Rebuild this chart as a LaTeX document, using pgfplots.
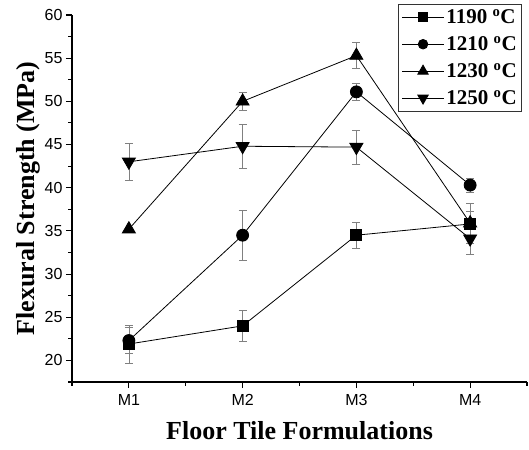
\documentclass[border=0pt]{standalone}
\usepackage{fontspec}
\setmainfont{Liberation Serif}
\setsansfont{Liberation Sans}
\usepackage{pgfplots}
\pgfplotsset{compat=1.18}
\begin{document}
\begin{tikzpicture}
\begin{axis}[
  scale only axis,
  width=455pt, height=367pt,
  at={(0,0)}, anchor=south west,
  xmin=0.5, xmax=4.5, ymin=17.5, ymax=60,
  axis x line*=bottom, axis y line*=left,
  axis line style={line width=1.3pt},
  tick align=outside,
  tick style={line width=1.1pt, black},
  major tick length=6pt, minor tick length=3.5pt,
  xtick={1,2,3,4}, xticklabels={M1,M2,M3,M4},
  minor xtick={0.5,1.5,2.5,3.5,4.5},
  ytick={20,25,...,60},
  minor ytick={17.5,22.5,...,57.5},
  /pgf/number format/assume math mode=true,
  tick label style={font=\fontsize{16}{18}\selectfont\sffamily},
  xticklabel style={yshift=-3pt},
  xlabel={\bfseries Floor Tile Formulations},
  ylabel={\bfseries Flexural Strength (MPa)},
  label style={font=\fontsize{26}{26}\selectfont},
  xlabel style={yshift=-9pt},
  ylabel style={yshift=-2pt},
  legend style={at={(axis description cs:1,1)}, anchor=north east, xshift=-5pt, yshift=11pt,
    draw=black!80, line width=0.6pt, font=\bfseries\fontsize{21}{21}\selectfont,
    row sep=7pt, inner xsep=3pt, inner ysep=3pt},
  legend cell align=left,
  legend image code/.code={%
    \draw[mark repeat=2,mark phase=2,line width=0.8pt,every mark/.append style={scale=0.8}]
      plot coordinates {(0pt,0pt) (21pt,0pt) (42pt,0pt)};},
  every axis plot/.append style={black, line width=0.8pt},
  error bars/y dir=both, error bars/y explicit,
  error bars/error bar style={gray, line width=0.5pt},
  error bars/error mark options={rotate=90, mark size=4pt, gray, line width=0.5pt},
]
\addplot[mark=square*, mark size=5.5pt] coordinates {
 (1,21.9) +- (0,2.2)
 (2,24.0) +- (0,1.8)
 (3,34.5) +- (0,1.55)
 (4,35.8) +- (0,1.5)
};
\addlegendentry{1190 \textsuperscript{o}C}
\addplot[mark=*, mark size=6pt] coordinates {
 (1,22.3) +- (0,1.5)
 (2,34.5) +- (0,2.9)
 (3,51.1) +- (0,1.0)
 (4,40.3) +- (0,0.8)
};
\addlegendentry{1210 \textsuperscript{o}C}
\addplot[mark=triangle*, mark size=7.5pt] coordinates {
 (1,35.2) +- (0,0)
 (2,50.0) +- (0,1.0)
 (3,55.3) +- (0,1.5)
 (4,35.9) +- (0,2.3)
};
\addlegendentry{1230 \textsuperscript{o}C}
\addplot[mark=triangle*, mark size=7.5pt, mark options={rotate=180}] coordinates {
 (1,43.0) +- (0,2.15)
 (2,44.8) +- (0,2.5)
 (3,44.7) +- (0,2.0)
 (4,34.1) +- (0,1.8)
};
\addlegendentry{1250 \textsuperscript{o}C}
\end{axis}
\pgfresetboundingbox
\path (-72pt,-67pt) rectangle (457pt,382pt);
\end{tikzpicture}
\end{document}
